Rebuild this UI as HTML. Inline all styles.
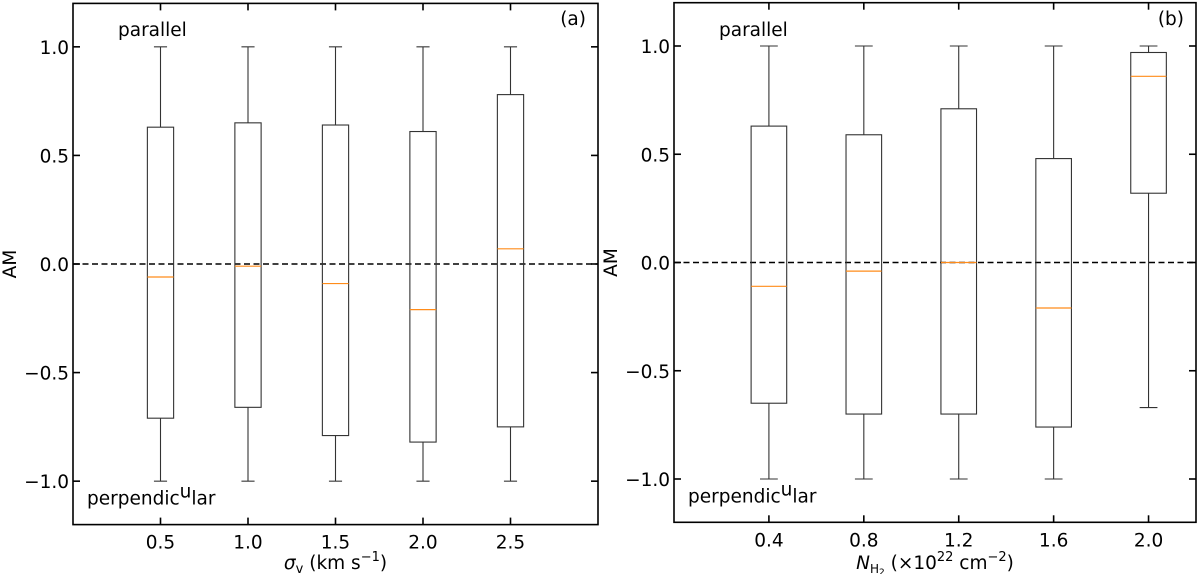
<!DOCTYPE html>
<html><head><meta charset="utf-8"><style>
html,body{margin:0;padding:0;background:#fff;}
svg{display:block;font-family:"DejaVu Sans","Liberation Sans",sans-serif;}
</style></head><body>
<svg id="chart" width="1200" height="574" xmlns="http://www.w3.org/2000/svg"></svg>
<script>
const catsA = [0.5, 1.0, 1.5, 2.0, 2.5];
const q1A = [-0.71, -0.66, -0.79, -0.82, -0.75];
const q3A = [0.63, 0.65, 0.64, 0.61, 0.78];
const medA = [-0.06, -0.01, -0.09, -0.21, 0.07];
const loA = [-1, -1, -1, -1, -1];
const hiA = [1, 1, 1, 1, 1];
const catsB = [0.4, 0.8, 1.2, 1.6, 2.0];
const q1B = [-0.65, -0.70, -0.70, -0.76, 0.32];
const q3B = [0.63, 0.59, 0.71, 0.48, 0.97];
const medB = [-0.11, -0.04, 0.00, -0.21, 0.86];
const loB = [-1, -1, -1, -1, -0.67];
const hiB = [1, 1, 1, 1, 1];
const yTicks = [-1.0, -0.5, 0.0, 0.5, 1.0];
const yTickLabels = ["\u22121.0", "\u22120.5", "0.0", "0.5", "1.0"];
const xTickLabelsA = ["0.5", "1.0", "1.5", "2.0", "2.5"];
const xTickLabelsB = ["0.4", "0.8", "1.2", "1.6", "2.0"];

const FS = 18.5;
const svg = document.getElementById('chart');
const NS = 'http://www.w3.org/2000/svg';
function mk(tag, attrs, parent) {
  const e = document.createElementNS(NS, tag);
  for (const k in attrs) e.setAttribute(k, attrs[k]);
  parent.appendChild(e);
  return e;
}

function panel(p) {
  const g = mk('g', {}, svg);
  
  
  const xs = v => p.L + (v - p.x0) / (p.x1 - p.x0) * (p.R - p.L);
  const ys = v => p.B - (v - (-1.2)) / 2.4 * (p.B - p.T);
  const zl = mk('line', {x1: p.L, x2: p.R, y1: ys(0), y2: ys(0), stroke: '#000', 'stroke-width': 1.5, 'stroke-dasharray': '6,3.5'}, g);
  
  
  for (let i = 0; i < p.cats.length; i++) {
    const bg = mk('g', {}, g);
    
    
    const cx = xs(p.cats[i]);
    const hw = (xs(p.cats[i] + 0.075) - cx);
    const cw = hw / 2;
    const st = {stroke: '#333', 'stroke-width': 1.1, fill: 'none'};
    mk('line', Object.assign({x1: cx, x2: cx, y1: ys(p.q3[i]), y2: ys(p.hi[i])}, st), bg);
    mk('line', Object.assign({x1: cx, x2: cx, y1: ys(p.q1[i]), y2: ys(p.lo[i])}, st), bg);
    mk('line', Object.assign({x1: cx - cw, x2: cx + cw, y1: ys(p.hi[i]), y2: ys(p.hi[i])}, st), bg);
    mk('line', Object.assign({x1: cx - cw, x2: cx + cw, y1: ys(p.lo[i]), y2: ys(p.lo[i])}, st), bg);
    mk('rect', Object.assign({x: cx - hw, y: ys(p.q3[i]), width: 2 * hw, height: ys(p.q1[i]) - ys(p.q3[i])}, st), bg);
    const m = mk('line', {x1: cx - hw, x2: cx + hw, y1: ys(p.med[i]), y2: ys(p.med[i]), stroke: '#ff8c1a', 'stroke-width': 1.2}, bg);
    
    
  }
  const fr = mk('rect', {x: p.L, y: p.T, width: p.R - p.L, height: p.B - p.T, fill: 'none', stroke: '#000', 'stroke-width': 1.6}, g);
  
  
  for (let i = 0; i < yTicks.length; i++) {
    const y = ys(yTicks[i]);
    mk('line', {x1: p.L, x2: p.L + 7, y1: y, y2: y, stroke: '#000', 'stroke-width': 1.6}, g);
    mk('line', {x1: p.R, x2: p.R - 7, y1: y, y2: y, stroke: '#000', 'stroke-width': 1.6}, g);
    const t = mk('text', {x: p.L - 4, y: y + 7, 'text-anchor': 'end', 'font-size': FS}, g);
    t.textContent = yTickLabels[i];
    
    
  }
  for (let i = 0; i < p.cats.length; i++) {
    const x = xs(p.cats[i]);
    mk('line', {x1: x, x2: x, y1: p.B, y2: p.B - 7, stroke: '#000', 'stroke-width': 1.6}, g);
    mk('line', {x1: x, x2: x, y1: p.T, y2: p.T + 7, stroke: '#000', 'stroke-width': 1.6}, g);
    const t = mk('text', {x: x, y: p.B + 24, 'text-anchor': 'middle', 'font-size': FS}, g);
    t.textContent = p.tickLabels[i];
    
    
  }
  const am = mk('text', {x: 0, y: 0, 'text-anchor': 'middle', 'font-size': FS, transform: 'translate(' + (p.L - 57) + ',' + ys(0) + ') rotate(-90)'}, g);
  am.textContent = 'AM';
  
  
  const pa = mk('text', {x: p.L + 45, y: 36, 'font-size': FS}, g);
  pa.textContent = 'parallel';
  
  
  const pe = mk('text', {x: p.L + 14, y: p.B - 20, 'font-size': FS}, g);
  pe.innerHTML = 'perpendic<tspan dy="-7">u</tspan><tspan dy="7">lar</tspan>';
  
  
  const pl = mk('text', {x: p.R - 12, y: 25, 'text-anchor': 'end', 'font-size': FS}, g);
  pl.textContent = p.panelLabel;
  
  
  const xl = mk('text', {x: (p.L + p.R) / 2, y: 569, 'text-anchor': 'middle', 'font-size': FS}, g);
  xl.innerHTML = p.xlabel;
  
  
}

panel({name: 'panel-a', L: 73, R: 598, T: 3.4, B: 524.6, x0: 0, x1: 3,
  cats: catsA, q1: q1A, q3: q3A, med: medA, lo: loA, hi: hiA, tickLabels: xTickLabelsA, panelLabel: '(a)',
  xlabel: '<tspan font-style="italic">\u03c3</tspan><tspan font-size="13" dy="4">v</tspan><tspan dy="-4"> (km s</tspan><tspan font-size="13" dy="-8">\u22121</tspan><tspan dy="8">)</tspan>'});
panel({name: 'panel-b', L: 674, R: 1196, T: 2.7, B: 522.3, x0: 0, x1: 2.2,
  cats: catsB, q1: q1B, q3: q3B, med: medB, lo: loB, hi: hiB, tickLabels: xTickLabelsB, panelLabel: '(b)',
  xlabel: '<tspan font-style="italic">N</tspan><tspan font-size="12" dy="4">H</tspan><tspan font-size="9" dy="2">2</tspan><tspan dy="-6"> (\u00d710</tspan><tspan font-size="13" dy="-8">22</tspan><tspan dy="8"> cm</tspan><tspan font-size="13" dy="-8">\u22122</tspan><tspan dy="8">)</tspan>'});
</script>
</body></html>
